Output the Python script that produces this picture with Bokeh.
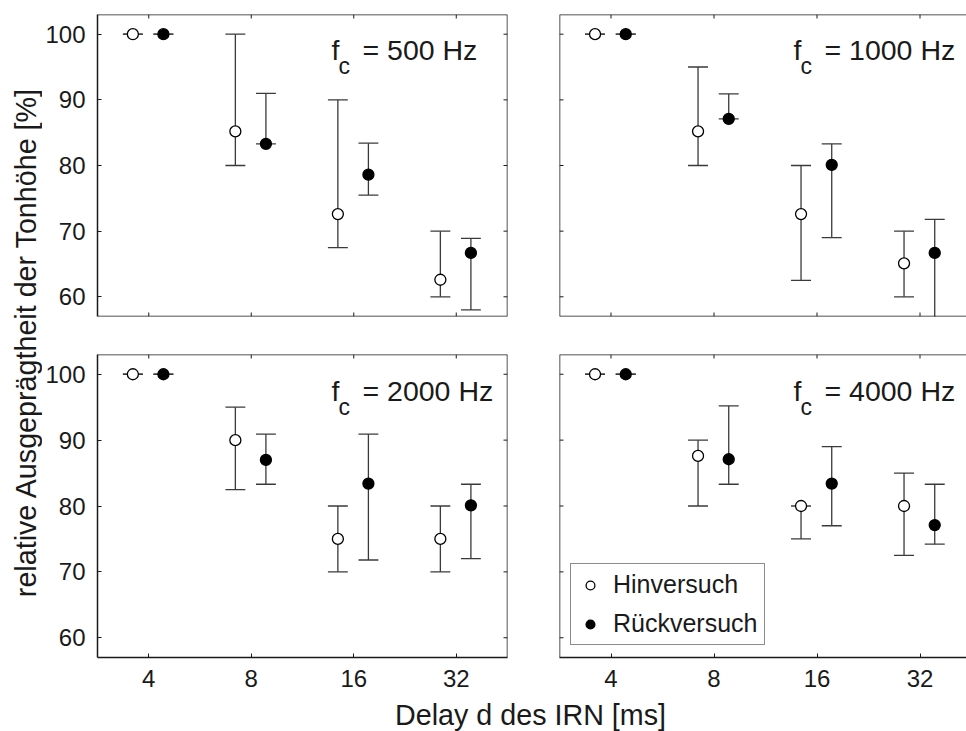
import math

from bokeh.embed import file_html
from bokeh.layouts import column, row
from bokeh.models import (ColumnDataSource, FixedTicker, Label, Legend, LegendItem,
                          NumeralTickFormatter, Range1d, Span)
from bokeh.plotting import figure
from bokeh.resources import INLINE

FONT = "Liberation Sans"
INK = "#1a1a1a"
ERR = "#3a3a3a"

# delay of the iterated rippled noise in ms (log2 spaced)
delays = [4, 8, 16, 32]
y_ticks = [60, 70, 80, 90, 100]
center_freqs = [500, 1000, 2000, 4000]

# relative pitch strength [%]: mean, lower and upper end of the spread
hin_mean_500 = [100, 85.2, 72.6, 62.6]
hin_lo_500 = [100, 80, 67.5, 60]
hin_hi_500 = [100, 100, 90, 70]
rueck_mean_500 = [100, 83.3, 78.6, 66.7]
rueck_lo_500 = [100, 83.3, 75.5, 58]
rueck_hi_500 = [100, 91, 83.4, 68.9]

hin_mean_1000 = [100, 85.2, 72.6, 65.1]
hin_lo_1000 = [100, 80, 62.5, 60]
hin_hi_1000 = [100, 95, 80, 70]
rueck_mean_1000 = [100, 87.1, 80.1, 66.7]
rueck_lo_1000 = [100, 87.1, 69, 55]
rueck_hi_1000 = [100, 90.9, 83.3, 71.8]

hin_mean_2000 = [100, 90, 75, 75]
hin_lo_2000 = [100, 82.5, 70, 70]
hin_hi_2000 = [100, 95, 80, 80]
rueck_mean_2000 = [100, 87, 83.4, 80.1]
rueck_lo_2000 = [100, 83.3, 71.8, 72]
rueck_hi_2000 = [100, 90.9, 90.9, 83.3]

hin_mean_4000 = [100, 87.6, 80, 80]
hin_lo_4000 = [100, 80, 75, 72.5]
hin_hi_4000 = [100, 90, 80, 85]
rueck_mean_4000 = [100, 87.1, 83.4, 77.1]
rueck_lo_4000 = [100, 83.3, 77, 74.2]
rueck_hi_4000 = [100, 95.2, 89, 83.3]

series = {
    500: ((hin_mean_500, hin_lo_500, hin_hi_500), (rueck_mean_500, rueck_lo_500, rueck_hi_500)),
    1000: ((hin_mean_1000, hin_lo_1000, hin_hi_1000), (rueck_mean_1000, rueck_lo_1000, rueck_hi_1000)),
    2000: ((hin_mean_2000, hin_lo_2000, hin_hi_2000), (rueck_mean_2000, rueck_lo_2000, rueck_hi_2000)),
    4000: ((hin_mean_4000, hin_lo_4000, hin_hi_4000), (rueck_mean_4000, rueck_lo_4000, rueck_hi_4000)),
}

Y_MIN, Y_MAX = 57, 103

# horizontal dodge of the two sessions and half width of the error bar caps (octaves)
HIN_SHIFT = -0.155
RUECK_SHIFT = 0.143
CAP_HALF = 0.097
PX_PER_OCTAVE = 103.0
TICK_LEN = 4


def style_axis(ax, standoff):
    ax.axis_line_color = INK
    ax.axis_line_width = 1.5
    ax.major_tick_in = TICK_LEN
    ax.major_tick_out = 0
    ax.minor_tick_in = 0
    ax.minor_tick_out = 0
    ax.major_tick_line_color = INK
    ax.major_tick_line_width = 1
    ax.major_label_text_font = FONT
    ax.major_label_text_font_size = "24px"
    ax.major_label_text_color = INK
    ax.major_label_standoff = standoff


def box_edge(p, dimension, location, tick_x, tick_y, angle):
    """Plain frame edge with inward ticks, for sides that carry no tick labels."""
    p.add_layout(Span(location=location, dimension=dimension, line_color=INK, line_width=1.5))
    p.ray(x=tick_x, y=tick_y, length=TICK_LEN, length_units="screen",
          angle=angle, line_color=INK, line_width=1)


def add_session(p, mean, lo, hi, shift, fill):
    xs = [d * 2 ** shift for d in delays]
    src = ColumnDataSource(dict(
        x=xs,
        x0=[x * 2 ** -CAP_HALF for x in xs],
        x1=[x * 2 ** CAP_HALF for x in xs],
        mean=mean, lo=lo, hi=hi,
    ))
    p.segment(x0="x", y0="lo", x1="x", y1="hi", source=src, line_color=ERR, line_width=1.3)
    p.segment(x0="x0", y0="hi", x1="x1", y1="hi", source=src, line_color=ERR, line_width=1.3)
    p.segment(x0="x0", y0="lo", x1="x1", y1="lo", source=src, line_color=ERR, line_width=1.3)
    return p.scatter("x", "mean", source=src, size=11, marker="circle",
                     fill_color=fill, line_color="black", line_width=1.3)


def make_panel(fc, left_col, bottom_row, legend=False):
    width = 490 if left_col else 434
    height = 362 if bottom_row else 335
    mb_left = 53 if left_col else 27
    mb_right = 25 if left_col else 0
    mb_top = 19 if bottom_row else 14
    mb_bottom = 40 if bottom_row else 19
    frame_w = width - mb_left - mb_right
    x_start = 2 ** 1.5
    x_end = 2 ** (1.5 + frame_w / PX_PER_OCTAVE)

    p = figure(width=width, height=height, x_axis_type="log",
               x_range=Range1d(x_start, x_end), y_range=Range1d(Y_MIN, Y_MAX),
               x_axis_location="below" if bottom_row else None,
               y_axis_location="left" if left_col else None,
               output_backend="svg", toolbar_location=None,
               min_border_left=mb_left, min_border_right=mb_right,
               min_border_top=mb_top, min_border_bottom=mb_bottom)
    p.outline_line_color = None
    p.grid.visible = False
    p.background_fill_color = "white"
    p.border_fill_color = "white"

    if bottom_row:
        xb = p.xaxis[0]
        xb.ticker = FixedTicker(ticks=delays, minor_ticks=[])
        xb.formatter = NumeralTickFormatter(format="0")
        style_axis(xb, 12)
    else:
        box_edge(p, "width", Y_MIN, delays, [Y_MIN] * len(delays), math.pi / 2)

    if left_col:
        yl = p.yaxis[0]
        yl.ticker = FixedTicker(ticks=y_ticks, minor_ticks=[])
        style_axis(yl, 12)
        box_edge(p, "height", x_end, [x_end] * len(y_ticks), y_ticks, math.pi)
    else:
        box_edge(p, "height", x_start, [x_start] * len(y_ticks), y_ticks, 0)

    box_edge(p, "width", Y_MAX, delays, [Y_MAX] * len(delays), -math.pi / 2)

    hin, rueck = series[fc]
    r_hin = add_session(p, *hin, HIN_SHIFT, "white")
    r_rueck = add_session(p, *rueck, RUECK_SHIFT, "black")

    # panel title f_c = ... Hz, with subscript c
    p.add_layout(Label(x=234, y=267, x_units="screen", y_units="screen", text="f",
                       text_font=FONT, text_font_size="28.5px", text_color=INK,
                       text_baseline="alphabetic"))
    p.add_layout(Label(x=241, y=251, x_units="screen", y_units="screen", text="c",
                       text_font=FONT, text_font_size="23px", text_color=INK,
                       text_baseline="alphabetic"))
    p.add_layout(Label(x=265, y=267, x_units="screen", y_units="screen",
                       text=f"= {fc} Hz", text_font=FONT, text_font_size="28.5px",
                       text_color=INK, text_baseline="alphabetic"))

    if legend:
        leg = Legend(items=[LegendItem(label="Hinversuch", renderers=[r_hin]),
                            LegendItem(label="Rückversuch", renderers=[r_rueck])],
                     location=(11, 12), margin=0, padding=6, spacing=10,
                     glyph_width=26, glyph_height=22, label_standoff=10,
                     label_text_font=FONT, label_text_font_size="25px",
                     label_text_color=INK, border_line_color=INK, border_line_width=1,
                     background_fill_color="white", background_fill_alpha=1)
        p.add_layout(leg)
    return p


def text_strip(width, height):
    f = figure(width=width, height=height, x_range=Range1d(0, width), y_range=Range1d(0, height),
               x_axis_location=None, y_axis_location=None, output_backend="svg",
               toolbar_location=None, min_border=0)
    f.outline_line_color = None
    f.grid.visible = False
    f.border_fill_color = "white"
    f.background_fill_color = "white"
    return f


tl = make_panel(500, True, False)
tr = make_panel(1000, False, False)
bl = make_panel(2000, True, True)
br = make_panel(4000, False, True, legend=True)

ylab = text_strip(42, 731)
ylab.add_layout(Label(x=25, y=389.5, angle=math.pi / 2, text="relative Ausgeprägtheit der Tonhöhe [%]",
                      text_font=FONT, text_font_size="28.7px", text_color=INK,
                      text_align="center", text_baseline="alphabetic"))

xlab = text_strip(924, 34)
xlab.add_layout(Label(x=488, y=17, text="Delay d des IRN [ms]", text_font=FONT,
                      text_font_size="28.7px", text_color=INK,
                      text_align="center", text_baseline="middle"))

layout = row(ylab, column(row(tl, tr), row(bl, br), xlab))

open("out.html", "w").write(file_html(layout, INLINE))
